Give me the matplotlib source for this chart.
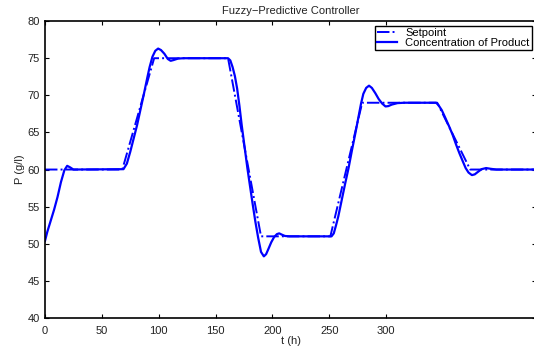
import matplotlib
matplotlib.use("Agg")
import matplotlib.pyplot as plt

# ---------------------------------------------------------------------------
# Data
# ---------------------------------------------------------------------------
setpoint_t = [0, 68, 96, 161, 190, 251, 279, 345, 374, 432]
setpoint_p = [60, 60, 75, 75, 51, 51, 69, 69, 60, 60]

product_t = [
    0, 2, 5, 8, 11, 14, 17, 19.5, 22, 25, 69,
    72, 75, 78, 81, 84, 87, 90, 92, 94.5, 97, 99.5, 102, 105, 108, 110.5,
    113, 117, 122, 161,
    163, 165, 167, 169, 171, 173, 175.5, 178, 180, 182.5, 185, 187.5, 190,
    192.5, 194.5, 196.5, 199, 201.5, 204, 206, 208, 211, 215, 252,
    254, 256, 258, 261, 264, 267, 270, 273, 276, 278, 280, 282.5, 285,
    287.5, 290.5, 293.5, 296.5, 299.5, 302, 305, 310, 316, 344,
    346, 349, 352, 355.5, 358.5, 361.5, 364.5, 367.5, 370, 372.5, 375.5,
    378, 380.5, 384, 388, 392, 397, 432,
]
product_p = [
    50.4, 51.6, 53.1, 54.6, 56.3, 58.3, 59.9, 60.5, 60.3, 60.0, 60.05,
    60.8, 62.4, 64.2, 66.0, 68.1, 70.2, 72.4, 73.8, 75.2, 76.0, 76.3, 76.1,
    75.6, 74.9, 74.65, 74.75, 74.95, 75.0, 75.0,
    74.7, 73.8, 72.6, 70.9, 68.6, 66.0, 63.1, 60.2, 58.1, 55.5, 53.0, 50.8,
    48.9, 48.3, 48.6, 49.3, 50.2, 50.9, 51.3, 51.4, 51.25, 51.05, 51.0, 51.0,
    51.4, 52.5, 53.7, 55.9, 58.1, 60.2, 62.6, 64.9, 67.3, 68.9, 70.2, 71.0,
    71.3, 71.0, 70.3, 69.5, 68.9, 68.5, 68.55, 68.75, 68.95, 69.0, 69.0,
    68.7, 68.0, 67.0, 65.8, 64.7, 63.4, 62.2, 61.1, 60.2, 59.6, 59.25,
    59.35, 59.65, 60.05, 60.2, 60.1, 60.0, 60.0,
]

x_ticks = [0, 50, 100, 150, 200, 250, 300]
y_ticks = [40, 45, 50, 55, 60, 65, 70, 75, 80]

FS = 8
BLUE = "#0000ff"

plt.rcParams["font.family"] = ["Liberation Sans", "DejaVu Sans"]

fig = plt.figure(figsize=(5.34, 3.46), dpi=100)
ax = fig.add_axes([0.0843, 0.081, 0.9197, 0.858])

ax.plot(setpoint_t, setpoint_p, linestyle="-.", color=BLUE, linewidth=1.4,
        label="Setpoint")
ax.plot(product_t, product_p, linestyle="-", color=BLUE, linewidth=1.6,
        label="Concentration of Product")

ax.set_xlim(0, 432)
ax.set_ylim(40, 80)
ax.set_xticks(x_ticks)
ax.set_yticks(y_ticks)
ax.tick_params(direction="in", length=3, labelsize=FS, top=True, right=True,
               width=0.8, labelcolor="#222222")
ax.tick_params(axis="x", pad=6)
for side in ax.spines.values():
    side.set_linewidth(1.2)

ax.set_title("Fuzzy\u2212Predictive Controller", fontsize=FS, pad=5,
             color="#222222")
ax.set_xlabel("t (h)", fontsize=FS, labelpad=0, color="#222222")
ax.set_ylabel("P (g/l)", fontsize=FS, labelpad=2, color="#222222")

leg = ax.legend(loc="upper right", fontsize=FS, frameon=True, fancybox=False,
                framealpha=1, edgecolor="black", handlelength=1.8,
                handletextpad=0.7, labelspacing=0.0, borderpad=0.2,
                borderaxespad=0.4)
leg.get_frame().set_linewidth(1.0)

fig.savefig("out.png", dpi=100)
